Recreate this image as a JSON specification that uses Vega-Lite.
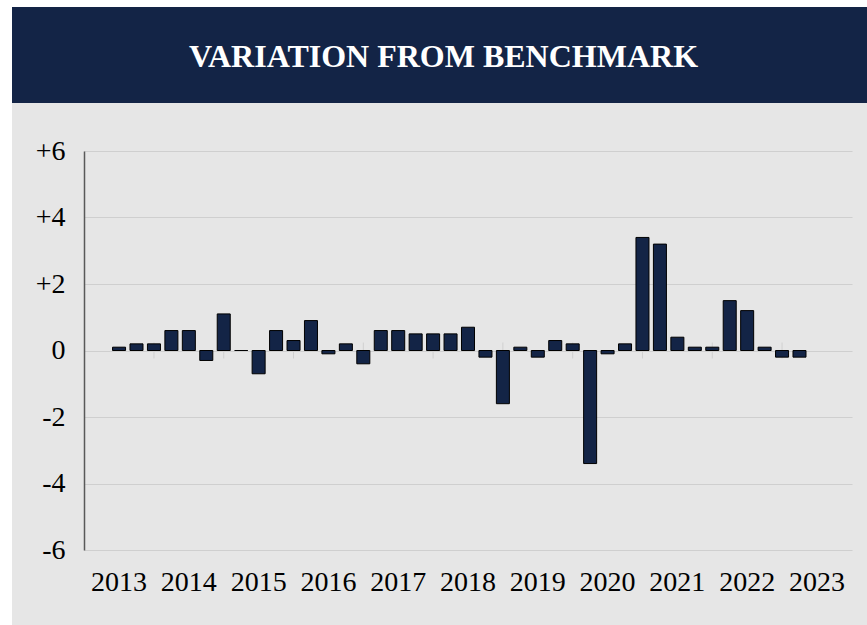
{
  "$schema": "https://vega.github.io/schema/vega-lite/v6.json",
  "background": "white",
  "padding": {"left": 12, "top": 7, "right": 0, "bottom": 0},
  "spacing": 0,
  "config": {
    "view": {"stroke": null},
    "font": "Liberation Serif"
  },
  "datasets": {
    "bars": [
      {"q": "2013 Q1", "v": 0.1}, {"q": "2013 Q2", "v": 0.2}, {"q": "2013 Q3", "v": 0.2}, {"q": "2013 Q4", "v": 0.6},
      {"q": "2014 Q1", "v": 0.6}, {"q": "2014 Q2", "v": -0.3}, {"q": "2014 Q3", "v": 1.1}, {"q": "2014 Q4", "v": 0.0},
      {"q": "2015 Q1", "v": -0.7}, {"q": "2015 Q2", "v": 0.6}, {"q": "2015 Q3", "v": 0.3}, {"q": "2015 Q4", "v": 0.9},
      {"q": "2016 Q1", "v": -0.1}, {"q": "2016 Q2", "v": 0.2}, {"q": "2016 Q3", "v": -0.4}, {"q": "2016 Q4", "v": 0.6},
      {"q": "2017 Q1", "v": 0.6}, {"q": "2017 Q2", "v": 0.5}, {"q": "2017 Q3", "v": 0.5}, {"q": "2017 Q4", "v": 0.5},
      {"q": "2018 Q1", "v": 0.7}, {"q": "2018 Q2", "v": -0.2}, {"q": "2018 Q3", "v": -1.6}, {"q": "2018 Q4", "v": 0.1},
      {"q": "2019 Q1", "v": -0.2}, {"q": "2019 Q2", "v": 0.3}, {"q": "2019 Q3", "v": 0.2}, {"q": "2019 Q4", "v": -3.4},
      {"q": "2020 Q1", "v": -0.1}, {"q": "2020 Q2", "v": 0.2}, {"q": "2020 Q3", "v": 3.4}, {"q": "2020 Q4", "v": 3.2},
      {"q": "2021 Q1", "v": 0.4}, {"q": "2021 Q2", "v": 0.1}, {"q": "2021 Q3", "v": 0.1}, {"q": "2021 Q4", "v": 1.5},
      {"q": "2022 Q1", "v": 1.2}, {"q": "2022 Q2", "v": 0.1}, {"q": "2022 Q3", "v": -0.2}, {"q": "2022 Q4", "v": -0.2}
    ]
  },
  "vconcat": [
    {
      "width": 855,
      "height": 96,
      "view": {"fill": "#132446", "stroke": null},
      "data": {"values": [{"t": "VARIATION FROM BENCHMARK"}]},
      "mark": {"type": "text", "font": "Liberation Serif", "fontWeight": "bold", "fontSize": 32, "color": "white", "baseline": "middle", "align": "center", "dx": 4, "dy": 2},
      "encoding": {"text": {"field": "t"}}
    },
    {
      "width": 855,
      "height": 522,
      "view": {"fill": "#e6e6e6", "stroke": null},
      "data": {"name": "bars"},
      "encoding": {
        "x": {
          "field": "q",
          "type": "ordinal",
          "sort": null,
          "scale": {
            "domain": [
              "2012 Q4",
              "2013 Q1","2013 Q2","2013 Q3","2013 Q4",
              "2014 Q1","2014 Q2","2014 Q3","2014 Q4",
              "2015 Q1","2015 Q2","2015 Q3","2015 Q4",
              "2016 Q1","2016 Q2","2016 Q3","2016 Q4",
              "2017 Q1","2017 Q2","2017 Q3","2017 Q4",
              "2018 Q1","2018 Q2","2018 Q3","2018 Q4",
              "2019 Q1","2019 Q2","2019 Q3","2019 Q4",
              "2020 Q1","2020 Q2","2020 Q3","2020 Q4",
              "2021 Q1","2021 Q2","2021 Q3","2021 Q4",
              "2022 Q1","2022 Q2","2022 Q3","2022 Q4",
              "2023 Q1","2023 Q2"
            ],
            "range": [72, 840],
            "paddingInner": 0.254,
            "paddingOuter": 0.636
          },
          "axis": {
            "title": null,
            "values": ["2013 Q1","2014 Q1","2015 Q1","2016 Q1","2017 Q1","2018 Q1","2019 Q1","2020 Q1","2021 Q1","2022 Q1","2023 Q1"],
            "labelExpr": "substring(datum.label, 0, 4)",
            "labelAngle": 0,
            "labelFont": "Liberation Serif",
            "labelFontSize": 28,
            "labelColor": "#000000",
            "labelBaseline": "top",
            "labelPadding": 18,
            "labelOverlap": false,
            "offset": -75,
            "domain": false,
            "ticks": false,
            "grid": false
          }
        },
        "y": {
          "type": "quantitative",
          "scale": {"domain": [-6, 6], "range": [447, 48], "nice": false, "zero": false}
        }
      },
      "layer": [
        {
          "transform": [{"filter": "indexof(datum.q, 'Q3') >= 0"}],
          "mark": {"type": "rule", "color": "#d0d0d0", "strokeWidth": 1},
          "encoding": {
            "y": {"datum": -0.24, "type": "quantitative", "axis": {
              "title": null,
              "values": [-6, -4, -2, 0, 2, 4, 6],
              "labelExpr": "datum.value > 0 ? '+' + datum.value : '' + datum.value",
              "labelFont": "Liberation Serif",
              "labelFontSize": 28,
              "labelColor": "#000000",
              "labelPadding": 19,
              "offset": -72,
              "ticks": false,
              "tickSize": 0,
              "domainColor": "#595959",
              "domainWidth": 1.5,
              "grid": true,
              "gridColor": "#cfcfcf",
              "gridWidth": 1
            }},
            "y2": {"datum": 0.24}
          }
        },
        {
          "mark": {"type": "bar", "fill": "#132446", "stroke": "#000000", "strokeWidth": 1},
          "encoding": {
            "y": {"field": "v", "type": "quantitative"}
          }
        }
      ]
    }
  ]
}
